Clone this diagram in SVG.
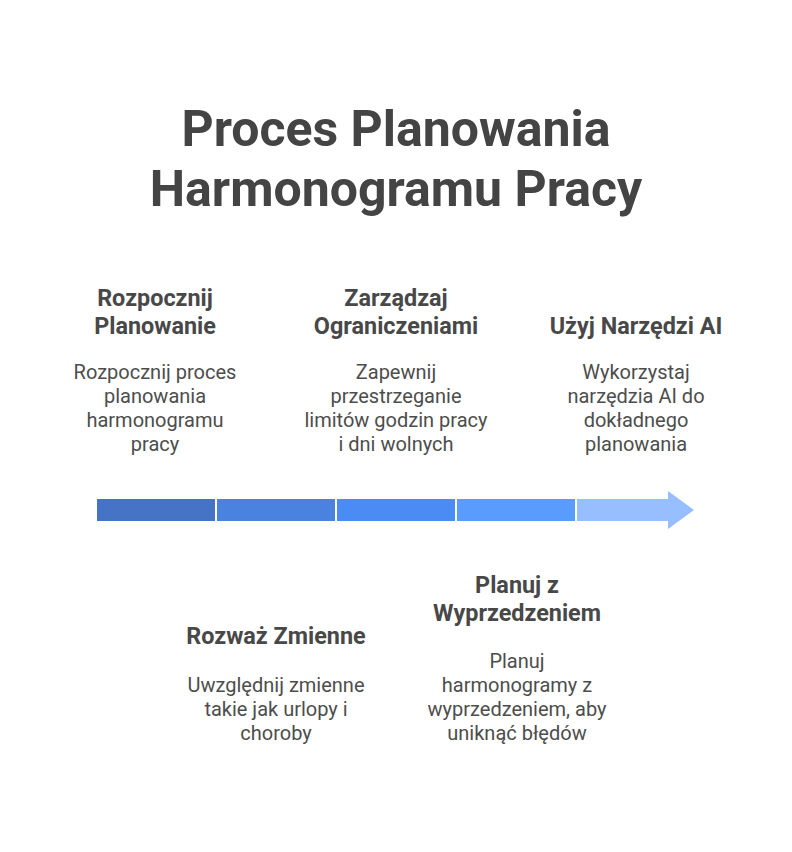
<svg xmlns="http://www.w3.org/2000/svg" width="792" height="852" viewBox="0 0 792 852">
<style>
text{font-family:Roboto,"Noto Sans",sans-serif;text-anchor:middle}
.t{font-size:50px;font-weight:700;fill:#444}
.h{font-size:23.4px;font-weight:700;fill:#484848}
.d{font-size:20px;fill:#4d4d4d}
</style>
<rect width="792" height="852" fill="#fff"/>
<g id="title">
<text class="t" x="396" y="146">Proces Planowania</text>
<text class="t" x="396" y="206">Harmonogramu Pracy</text>
</g>
<g id="connectors">
<rect x="97" y="499" width="118" height="22" fill="#4673c6"/>
<rect x="217" y="499" width="118" height="22" fill="#4a82e0"/>
<rect x="337" y="499" width="118" height="22" fill="#4a8cf4"/>
<rect x="457" y="499" width="118" height="22" fill="#5a9cfd"/>
<path d="M577 499H668V491L694 510L668 529V521H577Z" fill="#97bfff"/>
</g>
<g id="n1">
<text class="h" x="155" y="306">Rozpocznij</text>
<text class="h" x="155" y="334">Planowanie</text>
<text class="d" x="155" y="379">Rozpocznij proces</text>
<text class="d" x="155" y="403">planowania</text>
<text class="d" x="155" y="427">harmonogramu</text>
<text class="d" x="155" y="451">pracy</text>
</g>
<g id="n2">
<text class="h" x="276" y="644">Rozważ Zmienne</text>
<text class="d" x="276" y="692">Uwzględnij zmienne</text>
<text class="d" x="276" y="716">takie jak urlopy i</text>
<text class="d" x="276" y="740">choroby</text>
</g>
<g id="n3">
<text class="h" x="396" y="306">Zarządzaj</text>
<text class="h" x="396" y="334">Ograniczeniami</text>
<text class="d" x="396" y="379">Zapewnij</text>
<text class="d" x="396" y="403">przestrzeganie</text>
<text class="d" x="396" y="427">limitów godzin pracy</text>
<text class="d" x="396" y="451">i dni wolnych</text>
</g>
<g id="n4">
<text class="h" x="517" y="593">Planuj z</text>
<text class="h" x="517" y="621">Wyprzedzeniem</text>
<text class="d" x="517" y="668">Planuj</text>
<text class="d" x="517" y="692">harmonogramy z</text>
<text class="d" x="517" y="716">wyprzedzeniem, aby</text>
<text class="d" x="517" y="740">uniknąć błędów</text>
</g>
<g id="n5">
<text class="h" x="636" y="334">Użyj Narzędzi AI</text>
<text class="d" x="636" y="379">Wykorzystaj</text>
<text class="d" x="636" y="403">narzędzia AI do</text>
<text class="d" x="636" y="427">dokładnego</text>
<text class="d" x="636" y="451">planowania</text>
</g>
</svg>
